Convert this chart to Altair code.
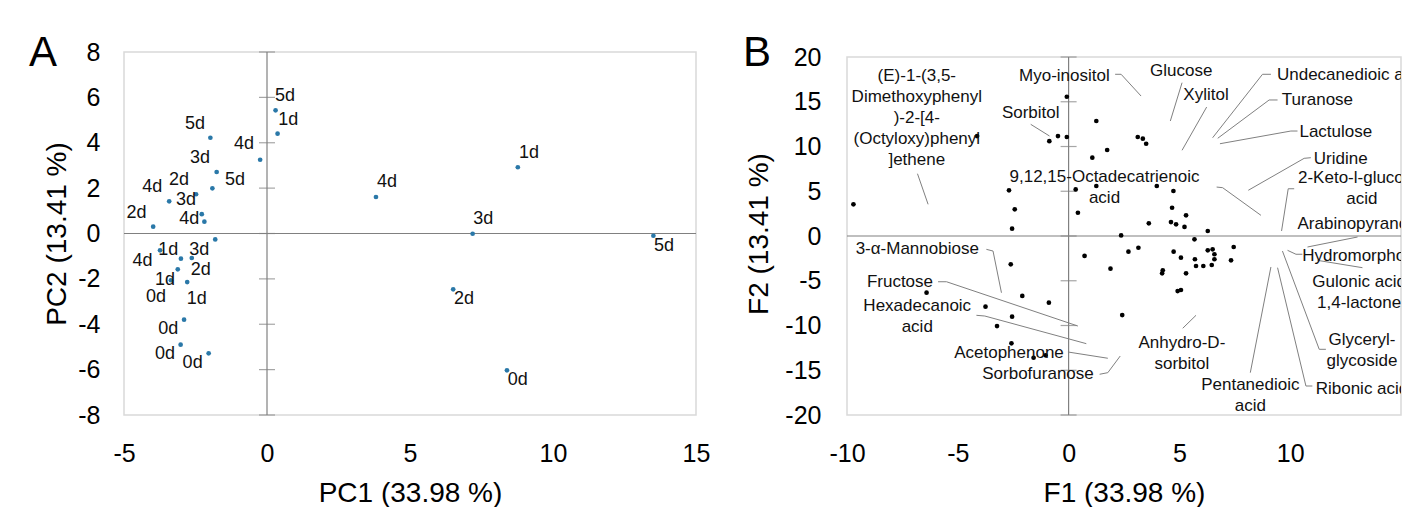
import altair as alt
import pandas as pd

FONT = "Liberation Sans"
GRAY = "#808080"
FRAME = "#d9d9d9"
BLUE = "#2a78a8"

# ---------------- Panel A (scores) ----------------
A_XLIM = [-5, 15]
A_YLIM = [-8, 8]
A_XTICKS = [-5, 0, 5, 10, 15]
A_YTICKS = [-8, -6, -4, -2, 0, 2, 4, 6, 8]

a_pc1 = [0.30, 0.37, -0.24, -1.98, -1.76, -1.91, -3.42, -2.48, -2.28, -2.19,
         -3.98, -1.81, -3.74, -3.01, -2.63, -3.12, -3.36, -2.79, -2.90, -3.02,
         -2.04, 3.81, 8.77, 7.19, 13.51, 6.51, 8.39]
a_pc2 = [5.43, 4.40, 3.25, 4.22, 2.71, 1.99, 1.42, 1.73, 0.85, 0.52,
         0.30, -0.26, -0.74, -1.11, -1.08, -1.58, -2.06, -2.14, -3.80, -4.90,
         -5.28, 1.61, 2.92, -0.01, -0.10, -2.46, -6.03]

a_lab = ["5d", "1d", "4d", "5d", "3d", "5d", "4d", "2d", "3d", "2d",
         "4d", "1d", "3d", "4d", "2d", "1d", "0d", "1d", "0d", "0d",
         "0d", "4d", "1d", "3d", "5d", "2d", "0d"]
a_lab_x = [0.63, 0.74, -0.80, -2.52, -2.34, -1.12, -4.01, -3.08, -2.83, -4.56,
           -2.72, -3.45, -2.37, -4.35, -2.32, -3.57, -3.88, -2.46, -3.45, -3.57,
           -2.60, 4.20, 9.16, 7.56, 13.88, 6.89, 8.77]
a_lab_y = [6.06, 5.00, 3.93, 4.84, 3.31, 2.36, 2.05, 2.36, 1.48, 0.89,
           0.63, -0.74, -0.74, -1.21, -1.62, -2.06, -2.80, -2.90, -4.22, -5.32,
           -5.69, 2.27, 3.53, 0.65, -0.55, -2.90, -6.47]

# ---------------- Panel B (loadings) ----------------
B_XLIM = [-10, 15]
B_YLIM = [-20, 20]
B_Y_TOP_PAD = 0.56
B_XTICKS = [-10, -5, 0, 5, 10]
B_YTICKS = [-20, -15, -10, -5, 0, 5, 10, 15, 20]

b_f1 = [-9.71, -4.13, -0.08, -0.87, -0.48, -0.08, 1.25, 1.07, 1.74, -2.69,
        -2.43, -2.55, 0.32, 1.25, 0.42, 2.37, 0.72, 1.89, 2.70, -2.61,
        -6.41, -2.09, -0.89, -3.75, -2.55, -3.23, -2.58, -1.58, -1.04, 2.42,
        3.12, 3.35, 3.50, 3.98, 4.73, 4.67, 5.30, 3.62, 4.62, 4.85,
        5.23, 6.28, 5.68, 3.15, 4.74, 5.07, 5.70, 6.28, 6.50, 6.58,
        6.58, 7.45, 7.33, 4.25, 4.22, 5.30, 5.75, 6.08, 6.46, 4.92, 5.07]
b_f2 = [3.54, 11.17, 15.56, 10.60, 11.17, 11.06, 12.85, 8.75, 9.61, 5.10,
        2.98, 0.82, 5.21, 5.59, 2.60, 0.07, -2.23, -3.65, -1.75, -3.16,
        -6.33, -6.70, -7.45, -7.90, -9.01, -10.06, -11.99, -13.60, -13.33, -8.83,
        11.06, 10.88, 10.31, 5.59, 5.03, 3.16, 2.31, 1.42, 1.56, 1.31,
        1.01, 0.56, -0.37, -1.31, -1.75, -2.42, -2.60, -1.60, -1.49, -2.04,
        -2.60, -1.23, -2.72, -3.83, -4.17, -4.17, -3.35, -3.35, -3.24, -6.15, -6.03]

# label anchor = centre of the first text line
b_lab = ["(E)-1-(3,5-\nDimethoxyphenyl\n)-2-[4-\n(Octyloxy)phenyl\n]ethene",
         "Myo-inositol", "Sorbitol", "9,12,15-Octadecatrienoic\nacid", "Glucose",
         "Xylitol", "Undecanedioic acid", "Turanose", "Lactulose", "Uridine",
         "2-Keto-l-gluconic\nacid", "Arabinopyranose", "Hydromorphone",
         "Gulonic acid\n1,4-lactone", "Glyceryl-\nglycoside", "Ribonic acid",
         "Pentanedioic\nacid", "Anhydro-D-\nsorbitol", "Sorbofuranose",
         "Acetophenone", "Hexadecanoic\nacid", "Fructose", "3-α-Mannobiose"]
b_lab_x = [-6.85, -0.19, -1.71, 1.62, 5.08, 6.20, 12.75, 11.23, 12.06, 12.28,
           13.23, 13.23, 13.29, 13.11, 13.24, 13.24, 8.20, 5.11, -1.38, -2.69,
           -6.83, -7.61, -6.83]
b_lab_y = [17.88, 17.88, 13.78, 6.59, 18.44, 15.75, 17.96, 15.16, 11.62, 8.57,
           6.45, 1.37, -2.23, -5.14, -11.62, -17.13, -16.68, -11.92, -15.45, -13.04,
           -7.82, -5.14, -1.49]

b_leaders = [
    [(-6.82, 6.96), (-6.34, 3.54)],
    [(2.10, 18.07), (2.37, 18.07), (3.27, 15.64)],
    [(-1.71, 12.48), (-0.86, 11.17)],
    [(6.68, 5.47), (6.95, 5.40), (8.68, 2.31)],
    [(5.12, 17.13), (4.59, 12.85)],
    [(6.23, 14.41), (5.12, 9.58)],
    [(9.13, 18.07), (8.75, 18.07), (6.50, 10.98)],
    [(9.43, 15.20), (9.05, 15.20), (6.73, 10.92)],
    [(10.33, 11.73), (10.03, 11.73), (6.83, 10.31)],
    [(10.93, 8.75), (10.63, 8.68), (8.11, 5.11)],
    [(10.18, 5.28), (9.91, 5.28), (9.61, 0.56)],
    [(13.04, -0.11), (10.78, -1.23)],
    [(10.55, -2.04), (10.26, -2.04), (9.88, -1.60)],
    [(13.26, -3.54), (11.23, -2.72)],
    [(11.61, -12.66), (11.31, -12.66), (9.65, -1.68)],
    [(11.00, -16.76), (10.71, -16.76), (9.43, -3.54)],
    [(8.20, -15.27), (9.13, -3.46)],
    [(5.15, -10.31), (5.75, -8.86)],
    [(1.40, -15.45), (1.77, -15.27), (2.33, -13.41)],
    [(-0.03, -12.96), (1.77, -13.66)],
    [(-4.16, -8.86), (-3.78, -8.94), (0.80, -12.03)],
    [(-5.89, -5.11), (-5.51, -5.11), (0.42, -10.06)],
    [(-3.71, -1.49), (-3.41, -1.68), (-3.03, -6.34)],
]


def axis_x(values, title):
    return alt.Axis(values=values, title=title, grid=False, domain=False, ticks=False,
                    labelFontSize=25, labelFont=FONT, labelColor="black", labelPadding=26,
                    labelExpr="'' + datum.value", labelOverlap=False, labelFlush=False,
                    titleFontSize=28, titleFont=FONT, titleFontWeight="normal",
                    titleColor="black", titlePadding=13)


def axis_y(values, title, lp, tp):
    return alt.Axis(values=values, title=title, grid=False, domain=False, ticks=False,
                    labelFontSize=25, labelFont=FONT, labelColor="black", labelPadding=lp,
                    labelExpr="'' + datum.value", labelOverlap=False, labelFlush=False,
                    titleFontSize=28, titleFont=FONT, titleFontWeight="normal",
                    titleColor="black", titlePadding=tp)


def build_panel(xlim, ylim, ydomain, xticks, yticks, xtitle, ytitle, ylp, ytp,
                tick_vals, letter, letter_dx):
    xs = alt.Scale(domain=xlim, nice=False, zero=False)
    ys = alt.Scale(domain=ydomain, nice=False, zero=False)
    ax = axis_x(xticks, xtitle)
    ay = axis_y(yticks, ytitle, ylp, ytp)

    def X(f):
        return alt.X(f, type="quantitative", scale=xs, axis=ax)

    def Y(f):
        return alt.Y(f, type="quantitative", scale=ys, axis=ay)

    frame = alt.Chart(pd.DataFrame({"x": [xlim[0]], "x2": [xlim[1]],
                                    "y": [ylim[0]], "y2": [ylim[1]]})).mark_rect(
        filled=False, color=FRAME, strokeWidth=1.5).encode(
        x=X("x"), x2="x2", y=Y("y"), y2="y2")
    vline = alt.Chart(pd.DataFrame({"x": [0], "y": [ylim[0]], "y2": [ylim[1]]})).mark_rule(
        color=GRAY, strokeWidth=1.2).encode(x=X("x"), y=Y("y"), y2="y2")
    hline = alt.Chart(pd.DataFrame({"y": [0], "x": [xlim[0]], "x2": [xlim[1]]})).mark_rule(
        color=GRAY, strokeWidth=1.2).encode(y=Y("y"), x=X("x"), x2="x2")
    ticks = alt.Chart(pd.DataFrame({"x": [0] * len(tick_vals), "y": tick_vals})).mark_tick(
        orient="horizontal", size=16, thickness=1.2, color=GRAY).encode(x=X("x"), y=Y("y"))
    let = alt.Chart(pd.DataFrame({"t": [letter]})).mark_text(
        font=FONT, fontSize=42, align="left", baseline="top", color="black").encode(
        text="t", x=alt.value(letter_dx), y=alt.value(-19))
    return X, Y, [frame, vline, hline, ticks, let]


# Panel A
XA, YA, baseA = build_panel(A_XLIM, A_YLIM, A_YLIM, A_XTICKS, A_YTICKS,
                            "PC1 (33.98 %)", "PC2 (13.41 %)", 24, 6,
                            A_YTICKS, "A", -95)
dotsA = alt.Chart(pd.DataFrame({"x": a_pc1, "y": a_pc2})).mark_circle(
    size=22, color=BLUE, opacity=1).encode(x=XA("x"), y=YA("y"))
labA = alt.Chart(pd.DataFrame({"x": a_lab_x, "y": a_lab_y, "t": a_lab})).mark_text(
    font=FONT, fontSize=18, color="#111111").encode(x=XA("x"), y=YA("y"), text="t")
panelA = alt.layer(*baseA, dotsA, labA).properties(width=572, height=363)

# Panel B
XB, YB, baseB = build_panel(B_XLIM, B_YLIM, [B_YLIM[0], B_YLIM[1] + B_Y_TOP_PAD],
                            B_XTICKS, B_YTICKS, "F1 (33.98 %)", "F2 (13.41 %)", 26, 11,
                            B_YTICKS, "B", -104)
dotsB = alt.Chart(pd.DataFrame({"x": b_f1, "y": b_f2})).mark_circle(
    size=22, color="black", opacity=1).encode(x=XB("x"), y=YB("y"))
rows = []
for i, pts in enumerate(b_leaders):
    for j, (px, py) in enumerate(pts):
        rows.append({"line": i, "o": j, "x": px, "y": py})
leadB = alt.Chart(pd.DataFrame(rows)).mark_line(
    color=GRAY, strokeWidth=1, clip=True).encode(
    x=XB("x"), y=YB("y"), detail="line:N", order="o:Q")
labB = alt.Chart(pd.DataFrame({"x": b_lab_x, "y": b_lab_y, "t": b_lab})).mark_text(
    font=FONT, fontSize=17, color="#111111", lineBreak="\n", lineHeight=21,
    baseline="middle", clip=True).encode(x=XB("x"), y=YB("y"), text="t")
panelB = alt.layer(*baseB, leadB, dotsB, labB).properties(width=554, height=363)

chart = alt.hconcat(panelA, panelB, spacing=151, bounds="flush").properties(
    padding={"left": 29, "top": 32, "right": 0, "bottom": 0}
).configure_view(stroke=None)

chart.save("out.html", embed_options={"renderer": "svg", "actions": False})
